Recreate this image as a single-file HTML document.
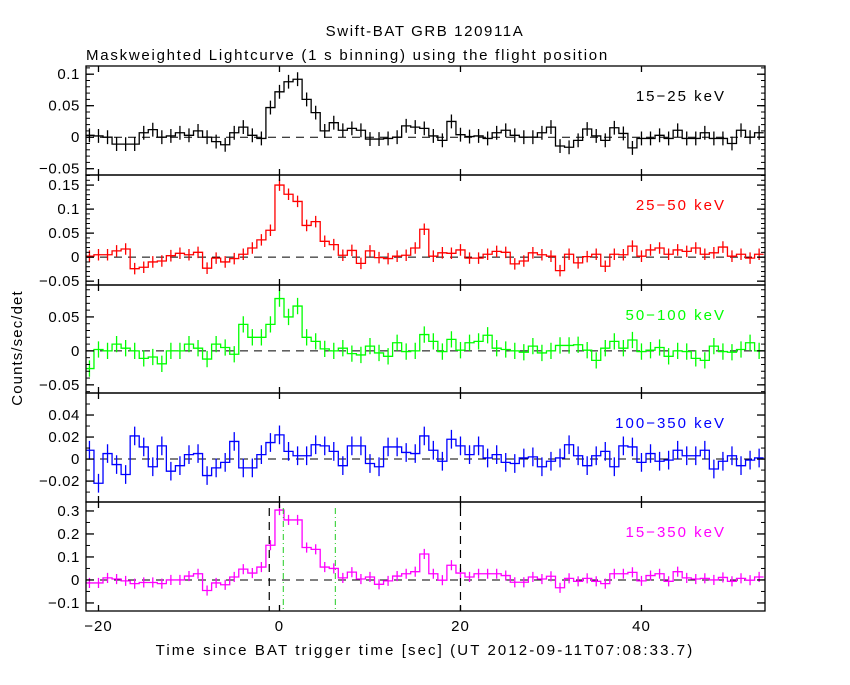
<!DOCTYPE html>
<html><head><meta charset="utf-8">
<style>
body{margin:0;background:#fff;}
svg text{font-family:"Liberation Sans",sans-serif;}
</style></head>
<body>
<svg id="chart" width="850" height="680" viewBox="0 0 850 680" xmlns="http://www.w3.org/2000/svg">
<rect width="850" height="680" fill="#fff"/>
<text x="425" y="36" font-size="15" letter-spacing="1.6" text-anchor="middle">Swift-BAT GRB 120911A</text>
<text x="86" y="60" font-size="15" letter-spacing="1.75">Maskweighted Lightcurve (1 s binning) using the flight position</text>
<text x="425" y="655" font-size="15" letter-spacing="2.1" text-anchor="middle">Time since BAT trigger time [sec] (UT 2012-09-11T07:08:33.7)</text>
<text x="0" y="0" font-size="15" letter-spacing="1.1" text-anchor="middle" transform="translate(22,348) rotate(-90)">Counts/sec/det</text>
<g id="panels"></g>
</svg>
<script>
const binStart = -21.5;
const binWidth = 1;
const s1 = [0.003,0.002,0,-0.011,-0.011,-0.011,0.007,0.012,0,0.002,0.007,0.003,0.01,0,-0.007,-0.012,0.007,0.016,0.003,-0.002,0.047,0.072,0.088,0.092,0.06,0.039,0.01,0.023,0.011,0.014,0.011,-0.003,-0.003,-0.002,0,0.018,0.016,0.014,0.002,-0.005,0.025,0.004,0.001,0.002,-0.002,0.007,0.011,0.003,0,0,0.007,0.016,-0.014,-0.016,-0.005,0.013,0.002,-0.005,0.015,0.006,-0.017,-0.002,-0.002,0.003,-0.002,0.011,-0.002,-0.002,0.007,-0.002,-0.002,-0.01,0.011,0,0.007];
const s2 = [0.002,0.005,0.005,0.013,0.017,-0.024,-0.021,-0.01,-0.008,0.003,0.008,0.005,0.01,-0.023,-0.002,-0.01,-0.003,0.006,0.019,0.036,0.056,0.15,0.131,0.116,0.066,0.074,0.033,0.026,0.004,0.014,-0.013,0.013,-0.001,-0.003,0.002,0.004,0.019,0.058,0.002,0.009,0.008,0.015,-0.002,-0.002,0.006,0.012,0.01,-0.014,-0.008,0.009,0.005,0.002,-0.028,0.006,-0.012,0.001,0.006,-0.019,0.006,0.005,0.023,0.002,0.015,0.019,0.006,0.015,0.012,0.019,0.006,0.009,0.021,0.002,0.006,-0.002,0.006];
const s3 = [-0.026,0.002,0,0.01,0.004,0,-0.011,-0.009,-0.019,0,0,0.01,0.004,-0.012,0.01,0.005,-0.005,0.039,0.02,0.02,0.039,0.077,0.05,0.066,0.02,0.014,0.003,0,0.004,-0.004,-0.006,0.007,-0.003,-0.008,0.012,-0.001,0,0.024,0.014,-0.001,0.017,0.001,0.012,0.014,0.023,0.004,0.002,0,-0.002,0.007,-0.003,0,0.008,0.008,0.009,0.001,-0.014,0.004,0.014,0.004,0.016,-0.001,0.001,0.005,-0.008,0,-0.001,-0.011,-0.014,0.007,-0.001,-0.002,0.002,0.012,0];
const s4 = [0.008,-0.022,0.005,-0.005,-0.014,0.021,0.011,-0.007,0.012,-0.011,-0.006,0.004,0.005,-0.015,-0.008,-0.003,0.016,-0.008,-0.008,0.004,0.015,0.022,0.007,0.003,0.003,0.013,0.012,0.007,-0.006,0.012,0.012,-0.004,-0.007,0.011,0.011,0.006,0.005,0.021,0.008,-0.002,0.018,0.012,0.004,0.012,0.001,0.004,-0.003,-0.004,0.001,0.002,-0.007,-0.002,0.001,0.013,0.003,-0.006,0.003,0.007,-0.007,0.012,0.011,-0.003,0.005,-0.002,-0.001,0.008,0.003,0.003,0.008,-0.009,-0.002,0.003,-0.006,-0.001,0.001];
const s5 = [-0.013,-0.013,0.009,0.004,-0.004,-0.016,-0.011,-0.011,-0.016,0,0,0.017,0.027,-0.046,-0.013,-0.021,0.013,0.047,0.03,0.056,0.151,0.304,0.261,0.261,0.141,0.133,0.056,0.05,0.009,0.034,0.004,0.013,-0.019,-0.004,0.017,0.027,0.036,0.113,0.027,-0.001,0.064,0.03,0.013,0.027,0.027,0.027,0.019,-0.01,-0.01,0.013,0.004,0.016,-0.034,0.007,-0.006,0.007,-0.006,-0.016,0.027,0.027,0.033,-0.004,0.019,0.027,-0.006,0.036,0.009,0.004,0.007,0,0.011,-0.006,0.007,-0.001,0.013];
const errs = [0.011,0.012,0.012,0.0085,0.022];
const xTicks = [-20,0,20,40];
const bandLabels = ["15\u221225 keV","25\u221250 keV","50\u2212100 keV","100\u2212350 keV","15\u2212350 keV"];
const yTicks1 = [0.1,0.05,0,-0.05];
const yTicks2 = [0.15,0.1,0.05,0,-0.05];
const yTicks3 = [0.05,0,-0.05];
const yTicks4 = [0.04,0.02,0,-0.02];
const yTicks5 = [0.3,0.2,0.1,0,-0.1];
const blackLines = [-1.13,20.0];
const greenLines = [0.42,6.17];

const NS="http://www.w3.org/2000/svg";
const L=86,R=765;
const xMin=-21.38,xMax=53.65;
const X=t=>L+(t-xMin)/(xMax-xMin)*(R-L);
const panels=[
 {d:s1,top:66,bot:175,ymin:-0.060,ymax:0.113,ticks:yTicks1,minor:0.01,color:"#000",name:"15-25"},
 {d:s2,top:175,bot:285,ymin:-0.058,ymax:0.171,ticks:yTicks2,minor:0.01,color:"#ff0000",name:"25-50"},
 {d:s3,top:285,bot:393,ymin:-0.062,ymax:0.097,ticks:yTicks3,minor:0.01,color:"#00ff00",name:"50-100"},
 {d:s4,top:393,bot:502,ymin:-0.039,ymax:0.060,ticks:yTicks4,minor:0.01,color:"#0000ff",name:"100-350"},
 {d:s5,top:502,bot:611,ymin:-0.135,ymax:0.339,ticks:yTicks5,minor:0.05,color:"#ff00ff",name:"15-350"}
];
const root=document.getElementById('panels');
function el(tag,attrs,parent){const e=document.createElementNS(NS,tag);for(const k in attrs)e.setAttribute(k,attrs[k]);(parent||root).appendChild(e);return e;}
panels.forEach((p,i)=>{
  const g=el('g',{});
  
  
  const Y=v=>p.bot-(v-p.ymin)/(p.ymax-p.ymin)*(p.bot-p.top);
  const cid='clip'+i;
  const cp=el('clipPath',{id:cid},g);el('rect',{x:L,y:p.top,width:R-L,height:p.bot-p.top},cp);
  const z=el('line',{x1:L,x2:R,y1:Y(0),y2:Y(0),stroke:"#000","stroke-width":1,"stroke-dasharray":"8,6"},g);
  
  
  let d="";
  p.d.forEach((v,k)=>{const x0=X(binStart+k*binWidth),x1=X(binStart+(k+1)*binWidth);d+=(k===0?"M":"L")+x0+","+Y(v)+"L"+x1+","+Y(v);});
  const h=el('path',{d:d,fill:"none",stroke:p.color,"stroke-width":1.3,"clip-path":"url(#"+cid+")"},g);
  
  
  let ed="";
  p.d.forEach((v,k)=>{const xc=X(binStart+(k+0.5)*binWidth);ed+="M"+xc+","+Y(v-errs[i])+"L"+xc+","+Y(v+errs[i]);});
  const eb=el('path',{d:ed,stroke:p.color,"stroke-width":1.3,"clip-path":"url(#"+cid+")"},g);
  
  
  const fr=el('rect',{x:L,y:p.top,width:R-L,height:p.bot-p.top,fill:"none",stroke:"#000","stroke-width":1.3},g);
  
  
  xTicks.forEach(t=>{el('line',{x1:X(t),x2:X(t),y1:p.top,y2:p.top+6,stroke:"#000","stroke-width":1.3},g);el('line',{x1:X(t),x2:X(t),y1:p.bot,y2:p.bot-6,stroke:"#000","stroke-width":1.3},g);});
  const n0=Math.ceil(p.ymin/p.minor-1e-6),n1=Math.floor(p.ymax/p.minor+1e-6);
  for(let n=n0;n<=n1;n++){const y=Y(n*p.minor);el('line',{x1:L,x2:L+4,y1:y,y2:y,stroke:"#000","stroke-width":1},g);el('line',{x1:R,x2:R-4,y1:y,y2:y,stroke:"#000","stroke-width":1},g);}
  p.ticks.forEach(t=>{const y=Y(t);el('line',{x1:L,x2:L+8,y1:y,y2:y,stroke:"#000","stroke-width":1.3},g);el('line',{x1:R,x2:R-8,y1:y,y2:y,stroke:"#000","stroke-width":1.3},g);
    const tx=el('text',{x:L-6,y:y+5,"font-size":15,"letter-spacing":0.6,"text-anchor":"end"},g);tx.textContent=(t<0?"\u2212":"")+String(Math.abs(t));
    
    });
  const lb=el('text',{x:726,y:p.top+35,"font-size":15,"letter-spacing":2,"text-anchor":"end",fill:p.color},g);lb.textContent=bandLabels[i];
  
  
  if(i===4){
    blackLines.forEach(t=>{const l=el('line',{x1:X(t),x2:X(t),y1:p.top+6,y2:p.bot,stroke:"#000","stroke-width":1.2,"stroke-dasharray":"8,6"},g);
      
      });
    greenLines.forEach(t=>{const l=el('line',{x1:X(t),x2:X(t),y1:p.top+6,y2:p.bot,stroke:"#22cc22","stroke-width":1,"stroke-dasharray":"6,3,1,3"},g);
      
      });
    xTicks.forEach(t=>{const tx=el('text',{x:X(t),y:631,"font-size":15,"letter-spacing":1,"text-anchor":"middle"},g);tx.textContent=(t<0?"\u2212":"")+Math.abs(t);
      
      });
  }
});
</script>
</body></html>
